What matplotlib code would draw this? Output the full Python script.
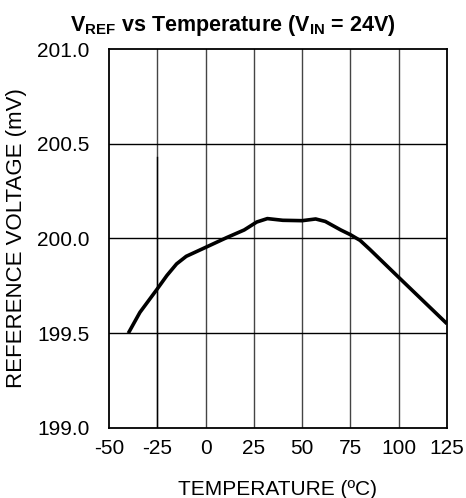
import numpy as np
import matplotlib.pyplot as plt

plt.rcParams['font.family'] = ['Liberation Sans', 'DejaVu Sans']
plt.rcParams['axes.unicode_minus'] = False
plt.rcParams['mathtext.fontset'] = 'custom'
plt.rcParams['mathtext.rm'] = 'Liberation Sans'
plt.rcParams['mathtext.bf'] = 'Liberation Sans:bold'

# data
temp_c = [-40, -34, -25, -20, -15, -10, 0, 11, 20, 26.5, 32, 40, 50, 57, 62, 70, 75, 80, 85, 100, 125]
vref_mv = [199.50, 199.61, 199.734, 199.805, 199.866, 199.906, 199.953, 200.005, 200.045, 200.087, 200.105,
           200.096, 200.094, 200.103, 200.09, 200.045, 200.02, 199.99, 199.943, 199.795, 199.55]

xticks = [-50, -25, 0, 25, 50, 75, 100, 125]
yticks = [199.0, 199.5, 200.0, 200.5, 201.0]

fig = plt.figure(figsize=(4.66, 4.98), dpi=100)
ax = fig.add_axes([0.2339, 0.1406, 0.7253, 0.761])

for x in xticks[1:-1]:
    ax.axvline(x, color='#444444', lw=1.0, zorder=1)
for y in yticks[1:-1]:
    ax.axhline(y, color='black', lw=1.0, zorder=1)
# stray marker line from the original figure
ax.plot([-25, -25], [199.0, 200.43], color='black', lw=1.0, zorder=2)

ax.plot(temp_c, vref_mv, color='black', lw=2.6, solid_capstyle='butt', solid_joinstyle='round', zorder=3)

ax.set_xlim(-50, 125)
ax.set_ylim(199.0, 201.0)
ax.set_xticks(xticks)
ax.set_yticks(yticks)
ax.set_yticklabels([f'{v:.1f}' for v in yticks])
ax.tick_params(length=0, labelsize=15)
ax.tick_params(axis='y', pad=14)
ax.tick_params(axis='x', pad=8)
for s in ax.spines.values():
    s.set_linewidth(1.3)

ax.set_xlabel('TEMPERATURE (ºC)', fontsize=15, labelpad=16)
ax.set_ylabel('REFERENCE VOLTAGE (mV)', fontsize=16, labelpad=7)
ax.set_title(r'V$_{\mathbf{REF}}$ vs Temperature (V$_{\mathbf{IN}}$ = 24V)', fontsize=15.5,
             fontweight='bold', pad=13, x=0.367)

fig.savefig('out.png', dpi=100)
